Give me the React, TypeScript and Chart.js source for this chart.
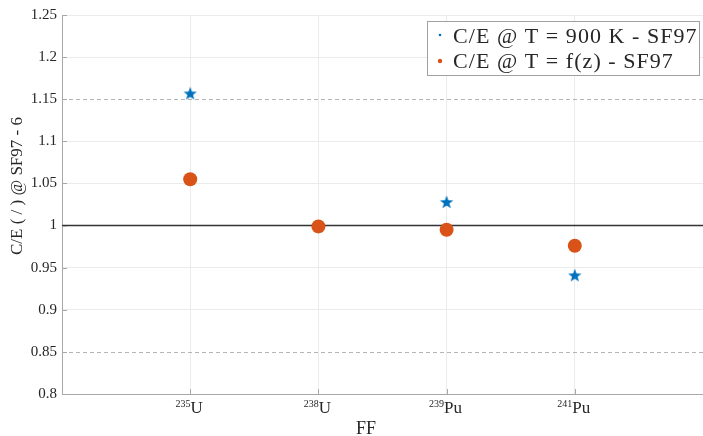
import React, { useEffect, useRef } from 'react';
import { Chart, registerables } from 'chart.js';

Chart.register(...registerables);

// ---- data ----
const categoryMass = ['235', '238', '239', '241'];
const categorySymbol = ['U', 'U', 'Pu', 'Pu'];
const seriesNames = ['C/E @ T = 900 K - SF97', 'C/E @ T = f(z) - SF97'];
const ce900K = [1.157, 0.999, 1.028, 0.941];
const ceFz = [1.055, 0.999, 0.995, 0.976];
const yTicks = [0.8, 0.85, 0.9, 0.95, 1, 1.05, 1.1, 1.15, 1.2, 1.25];
const dashedRefs = [0.85, 1.15];
const solidRef = 1;
const yTitle = 'C/E ( / ) @ SF97 - 6';
const xTitle = 'FF';

const FONT = '"Liberation Serif", "Times New Roman", serif';
const TEXT = '#262626';
const BLUE = '#0072BD';
const ORANGE = '#D95319';
const GRID = '#ebebeb';
const AXIS = '#a8a8a8';

function makeStar(color: string, r: number) {
  const c = document.createElement('canvas');
  const s = Math.ceil(r * 2) + 2;
  c.width = s;
  c.height = s;
  const g = c.getContext('2d')!;
  g.fillStyle = color;
  g.beginPath();
  for (let i = 0; i < 10; i++) {
    const rad = i % 2 === 0 ? r : r * 0.42;
    const a = -Math.PI / 2 + (i * Math.PI) / 5;
    const px = s / 2 + rad * Math.cos(a);
    const py = s / 2 + rad * Math.sin(a) + 0.6;
    if (i === 0) g.moveTo(px, py);
    else g.lineTo(px, py);
  }
  g.closePath();
  g.fill();
  return c;
}

export default function App() {
  const ref = useRef<HTMLCanvasElement | null>(null);

  useEffect(() => {
    document.body.style.margin = '0';
    const canvas = ref.current!;
    const star = makeStar(BLUE, 7);

    const decor = {
      id: 'decor',
      beforeDatasetsDraw(chart: any) {
        const { ctx, chartArea: a, scales } = chart;
        const y = scales.y;
        const x = scales.x;
        ctx.save();
        // dashed reference lines
        ctx.strokeStyle = '#b4b4b4';
        ctx.lineWidth = 1;
        ctx.setLineDash([4, 3]);
        dashedRefs.forEach((v) => {
          const py = Math.round(y.getPixelForValue(v)) + 0.5;
          ctx.beginPath();
          ctx.moveTo(a.left, py);
          ctx.lineTo(a.right, py);
          ctx.stroke();
        });
        ctx.setLineDash([]);
        // solid reference line
        ctx.strokeStyle = '#333333';
        ctx.lineWidth = 1.5;
        const p1 = y.getPixelForValue(solidRef);
        ctx.beginPath();
        ctx.moveTo(a.left, p1);
        ctx.lineTo(a.right, p1);
        ctx.stroke();
        // inward ticks
        ctx.strokeStyle = AXIS;
        ctx.lineWidth = 1;
        yTicks.forEach((v) => {
          const py = Math.round(y.getPixelForValue(v)) + 0.5;
          ctx.beginPath();
          ctx.moveTo(a.left, py);
          ctx.lineTo(a.left + 5, py);
          ctx.stroke();
        });
        categoryMass.forEach((_, i) => {
          const px = Math.round(x.getPixelForValue(i + 1)) + 0.5;
          ctx.beginPath();
          ctx.moveTo(px, a.bottom);
          ctx.lineTo(px, a.bottom - 5);
          ctx.stroke();
        });
        ctx.restore();
      },
      afterDraw(chart: any) {
        const { ctx, chartArea: a, scales } = chart;
        const x = scales.x;
        ctx.save();
        ctx.fillStyle = TEXT;
        ctx.textBaseline = 'alphabetic';
        // x tick labels with superscripts
        categoryMass.forEach((m, i) => {
          const cx = x.getPixelForValue(i + 1);
          ctx.font = `10px ${FONT}`;
          const ws = ctx.measureText(m).width;
          ctx.font = `17px ${FONT}`;
          const wm = ctx.measureText(categorySymbol[i]).width;
          const start = cx - (ws + wm) / 2 - 1;
          ctx.textAlign = 'left';
          ctx.font = `10px ${FONT}`;
          ctx.fillText(m, start, a.bottom + 13);
          ctx.font = `17px ${FONT}`;
          ctx.fillText(categorySymbol[i], start + ws, a.bottom + 19);
        });
        // x title
        ctx.font = `18px ${FONT}`;
        ctx.textAlign = 'center';
        ctx.fillText(xTitle, 366, a.bottom + 40);
        // y title
        ctx.save();
        ctx.translate(22, 186);
        ctx.rotate(-Math.PI / 2);
        ctx.font = `17px ${FONT}`;
        ctx.textAlign = 'center';
        ctx.fillText(yTitle, 0, 0);
        ctx.restore();
        // legend
        const bx = a.right - 276;
        const by = a.top + 6;
        const bw = 272;
        const bh = 54;
        ctx.fillStyle = '#ffffff';
        ctx.fillRect(bx, by, bw, bh);
        ctx.strokeStyle = '#a0a0a0';
        ctx.lineWidth = 1;
        ctx.strokeRect(Math.round(bx) + 0.5, Math.round(by) + 0.5, bw, bh);
        const colors = [BLUE, ORANGE];
        const sizes = [1.3, 2.2];
        ctx.font = `22px ${FONT}`;
        ctx.textAlign = 'left';
        seriesNames.forEach((name, i) => {
          const ly = by + 18 + i * 25;
          ctx.fillStyle = colors[i];
          ctx.beginPath();
          ctx.arc(bx + 13, ly - 4 + i, sizes[i], 0, Math.PI * 2);
          ctx.fill();
          ctx.fillStyle = TEXT;
          (ctx as any).letterSpacing = '1.05px';
          ctx.fillText(name, bx + 26, ly + 4);
          (ctx as any).letterSpacing = '0px';
        });
        ctx.restore();
      },
    };

    const chart = new Chart(canvas, {
      type: 'scatter',
      data: {
        datasets: [
          {
            label: seriesNames[1],
            data: ceFz.map((v, i) => ({ x: i + 1, y: v })),
            pointStyle: 'circle',
            pointRadius: 7,
            pointBackgroundColor: ORANGE,
            pointBorderColor: ORANGE,
            pointBorderWidth: 0,
            order: 0,
          },
          {
            label: seriesNames[0],
            data: ce900K.map((v, i) => ({ x: i + 1, y: v })),
            pointStyle: star as any,
            pointRadius: 7,
            order: 1,
          },
        ],
      },
      options: {
        responsive: false,
        animation: false,
        layout: { autoPadding: false, padding: { top: 15, left: 0, right: 0, bottom: 0 } },
        plugins: {
          legend: { display: false },
          tooltip: { enabled: false },
        },
        scales: {
          x: {
            type: 'linear',
            min: 0,
            max: 5,
            afterBuildTicks: (axis: any) => {
              axis.ticks = categoryMass.map((_, i) => ({ value: i + 1 }));
            },
            afterFit: (axis: any) => {
              axis.height = 42;
            },
            ticks: { display: false },
            grid: { color: GRID, drawTicks: false, lineWidth: 1 },
            border: { display: true, color: AXIS, width: 1 },
          },
          y: {
            type: 'linear',
            min: 0.8,
            max: 1.25,
            afterBuildTicks: (axis: any) => {
              axis.ticks = yTicks.map((v) => ({ value: v }));
            },
            afterFit: (axis: any) => {
              axis.width = 62;
            },
            ticks: {
              padding: 5,
              color: TEXT,
              font: { family: FONT, size: 15 },
              callback: (v: any) => String(Number(Number(v).toFixed(2))),
            },
            grid: {
              drawTicks: false,
              lineWidth: 1,
              color: (c: any) => {
                const v = c.tick ? Number(c.tick.value.toFixed(2)) : 0;
                if (v === solidRef || dashedRefs.includes(v)) return 'rgba(0,0,0,0)';
                return GRID;
              },
            },
            border: { display: true, color: AXIS, width: 1 },
          },
        },
      },
      plugins: [decor],
    });

    return () => chart.destroy();
  }, []);

  return (
    <div style={{ width: 703, height: 436 }}>
      <canvas ref={ref} width={703} height={436} style={{ display: 'block' }} />
    </div>
  );
}
